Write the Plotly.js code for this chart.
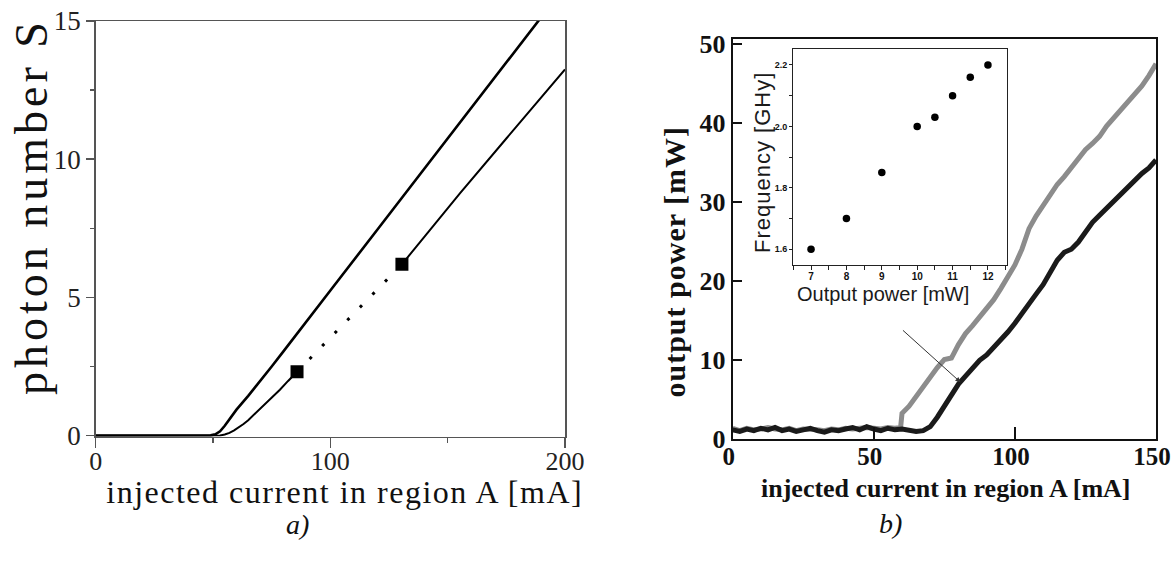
<!DOCTYPE html>
<html>
<head>
<meta charset="utf-8">
<script src="https://cdn.plot.ly/plotly-3.0.1.min.js"></script>
<style>
  html, body { margin: 0; padding: 0; background: #fff; }
  #chart { width: 1173px; height: 561px; }
  .annotation[data-index="0"] text { letter-spacing: 4px; }
  .annotation[data-index="1"] text { letter-spacing: 1.5px; }
  .annotation[data-index="2"] text { letter-spacing: 1px; }
  .annotation[data-index="4"] text { letter-spacing: 1px; }
</style>
</head>
<body>
<div id="chart"></div>
<script>
// ---------- Panel a) simulation: photon number S vs injected current ----------
const simCurrentUpper = [0, 45, 49, 51, 53, 55, 57, 60, 65, 70, 75, 80, 87, 100, 120, 140, 160, 180, 190];
const simPhotonUpper  = [0, 0, 0.01, 0.05, 0.16, 0.36, 0.6, 0.94, 1.44, 1.96, 2.5, 3.05, 3.83, 5.25, 7.45, 9.65, 11.85, 14.05, 15.15];

const simCurrentLowerA = [0, 50, 53, 55, 57, 59, 61, 63, 65, 68, 71.3, 75, 78.5, 82, 85.8];
const simPhotonLowerA  = [0, 0, 0.01, 0.04, 0.1, 0.19, 0.3, 0.42, 0.56, 0.8, 1.05, 1.37, 1.66, 1.98, 2.31];

const simCurrentLowerB = [130.5, 155.3, 175, 200];
const simPhotonLowerB  = [6.2, 8.77, 10.75, 13.25];

const squareCurrent = [85.8, 130.5];
const squarePhoton  = [2.31, 6.2];

// ---------- Panel b) measurement: output power vs injected current ----------
const measCurrentBlack = [0, 2.5, 5, 7.5, 10, 12.5, 15, 17.5, 20, 22.5, 25, 27.5, 30, 32.5, 35, 37.5, 40, 42.5, 45, 47.5,
  50, 52.5, 55, 57.5, 60, 62.5, 65, 67.5, 70, 72.5, 75, 77.5, 80, 82.5, 85, 87.5, 90, 92.5, 95, 97.5,
  100, 102.5, 105, 107.5, 110, 112.5, 115, 117.5, 120, 122.5, 125, 127.5, 130, 132.5, 135, 137.5, 140, 142.5, 145, 147.5, 150];
const measPowerBlack = [1.1, 0.9, 1.2, 1.0, 1.3, 1.1, 1.4, 1.0, 1.2, 0.9, 1.1, 1.3, 1.0, 0.8, 1.1, 1.0, 1.2, 1.4, 1.1, 1.5,
  1.2, 1.0, 1.3, 1.1, 1.2, 1.0, 0.9, 1.0, 1.5, 2.7, 4.2, 5.6, 6.9, 7.9, 8.9, 9.9, 10.6, 11.5, 12.6, 13.5,
  14.6, 15.9, 17.0, 18.3, 19.5, 21.0, 22.6, 23.6, 24.0, 24.9, 26.1, 27.4, 28.3, 29.2, 30.1, 31.0, 31.9, 32.8, 33.6, 34.3, 35.3];

const measCurrentGray = [0, 2.5, 5, 7.5, 10, 12.5, 15, 17.5, 20, 22.5, 25, 27.5, 30, 32.5, 35, 37.5, 40, 42.5, 45, 47.5,
  50, 52.5, 55, 57.5, 59.5, 60, 62.5, 65, 67.5, 70, 72.5, 75, 77.5, 80, 82.5, 85, 87.5, 90, 92.5, 95, 97.5,
  100, 102.5, 105, 107.5, 110, 112.5, 115, 117.5, 120, 122.5, 125, 127.5, 130, 132.5, 135, 137.5, 140, 142.5, 145, 147.5, 150];
const measPowerGray = [1.3, 1.0, 1.3, 1.1, 1.2, 1.4, 1.2, 1.1, 1.3, 1.0, 1.2, 1.2, 1.1, 1.0, 1.2, 1.1, 1.3, 1.2, 1.3, 1.4,
  1.3, 1.2, 1.4, 1.3, 1.4, 3.2, 4.1, 5.3, 6.6, 7.9, 9.0, 10.0, 10.2, 11.9, 13.3, 14.3, 15.4, 16.3, 17.6, 19.0, 20.6,
  22.0, 24.0, 26.6, 28.2, 29.6, 31.0, 32.2, 33.2, 34.4, 35.6, 36.6, 37.4, 38.3, 39.6, 40.6, 41.6, 42.7, 43.7, 44.7, 46.0, 47.5];

// ---------- Inset: frequency vs output power ----------
const insetPower = [7, 8, 9, 10, 10.5, 11, 11.5, 12];
const insetFreq  = [1.6, 1.7, 1.85, 2.0, 2.03, 2.1, 2.16, 2.2];

// ---------- Tick labels and text ----------
const ticksA_x = [0, 100, 200];
const ticksA_y = [0, 5, 10, 15];
const ticksB_x = [0, 50, 100, 150];
const ticksB_y = [0, 10, 20, 30, 40, 50];
const ticksInset_x = [7, 8, 9, 10, 11, 12];
const ticksInset_y = [1.6, 1.8, 2.0, 2.2];

const titleA_y = 'photon number S';
const titleA_x = 'injected current in region A [mA]';
const titleB_y = 'output power [mW]';
const titleB_x = 'injected current in region A [mA]';
const insetTitleY = 'Frequency [GHy]';
const insetTitleX = 'Output power [mW]';
const panelLabels = ['a)', 'b)'];

const W = 1173, H = 561;
const px = v => v / W;
const py = v => 1 - v / H;

const serif = 'Liberation Serif, Times New Roman, serif';
const sans = 'Liberation Sans, Arial, sans-serif';

const traces = [
  { x: simCurrentUpper, y: simPhotonUpper, xaxis: 'x', yaxis: 'y', mode: 'lines',
    line: { color: '#000', width: 2.6 }, hoverinfo: 'skip' },
  { x: simCurrentLowerA, y: simPhotonLowerA, xaxis: 'x', yaxis: 'y', mode: 'lines',
    line: { color: '#000', width: 2 }, hoverinfo: 'skip' },
  { x: simCurrentLowerB, y: simPhotonLowerB, xaxis: 'x', yaxis: 'y', mode: 'lines',
    line: { color: '#000', width: 2 }, hoverinfo: 'skip' },
  { x: squareCurrent, y: squarePhoton, xaxis: 'x', yaxis: 'y', mode: 'lines',
    line: { color: '#000', width: 3, dash: '3px,15px' }, hoverinfo: 'skip' },
  { x: squareCurrent, y: squarePhoton, xaxis: 'x', yaxis: 'y', mode: 'markers',
    marker: { symbol: 'square', size: 13, color: '#000' }, hoverinfo: 'skip' },

  { x: measCurrentGray, y: measPowerGray, xaxis: 'x2', yaxis: 'y2', mode: 'lines',
    line: { color: '#8c8c8c', width: 5 }, hoverinfo: 'skip' },
  { x: measCurrentBlack, y: measPowerBlack, xaxis: 'x2', yaxis: 'y2', mode: 'lines',
    line: { color: '#1a1a1a', width: 5 }, hoverinfo: 'skip' },

  { x: insetPower, y: insetFreq, xaxis: 'x3', yaxis: 'y3', mode: 'markers',
    marker: { size: 7.5, color: '#000' }, hoverinfo: 'skip' }
];

const layout = {
  width: W, height: H,
  margin: { l: 0, r: 0, t: 0, b: 0 },
  paper_bgcolor: '#fff', plot_bgcolor: '#fff',
  showlegend: false,
  xaxis: {
    domain: [px(95.7), px(565)], range: [0, 200], anchor: 'y',
    tickvals: ticksA_x, ticks: 'outside', ticklen: 10, tickwidth: 1.5, tickcolor: '#555',
    minor: { tickvals: [50, 150], ticks: 'outside', ticklen: 5, tickwidth: 1.5, tickcolor: '#555' },
    showline: true, linecolor: '#555', linewidth: 1.5, mirror: true,
    showgrid: false, zeroline: false, ticklabelstandoff: -9, ticklabeloverflow: 'allow',
    tickfont: { family: serif, size: 26, color: '#222' }
  },
  yaxis: {
    domain: [py(436.5), py(21)], range: [-0.03, 15], anchor: 'x',
    tickvals: ticksA_y, ticks: 'outside', ticklen: 8, tickwidth: 1.5, tickcolor: '#555',
    minor: { tickvals: [2.5, 7.5, 12.5], ticks: 'outside', ticklen: 4, tickwidth: 1.5, tickcolor: '#555' },
    showline: true, linecolor: '#555', linewidth: 1.5, mirror: true,
    showgrid: false, zeroline: false, ticklabeloverflow: 'allow',
    tickfont: { family: serif, size: 27, color: '#222' }
  },
  xaxis2: {
    domain: [px(732.7), px(1156)], range: [0, 150], anchor: 'y2',
    tickvals: ticksB_x, ticks: 'inside', ticklen: 12, tickwidth: 2, tickcolor: '#111',
    showline: true, linecolor: '#111', linewidth: 2, mirror: true,
    showgrid: false, zeroline: false, ticklabelstandoff: -6, ticklabelshift: -4, ticklabeloverflow: 'allow',
    tickfont: { family: serif, size: 25, color: '#111', weight: 'bold' }
  },
  yaxis2: {
    domain: [py(439.3), py(39.3)], range: [-0.1, 50.6], anchor: 'x2',
    tickvals: ticksB_y, ticks: 'inside', ticklen: 9, tickwidth: 2, tickcolor: '#111',
    showline: true, linecolor: '#111', linewidth: 2, mirror: true,
    showgrid: false, zeroline: false, ticklabeloverflow: 'allow',
    tickfont: { family: serif, size: 26, color: '#111', weight: 'bold' }
  },
  xaxis3: {
    domain: [px(793), px(1006.7)], range: [6.49, 12.53], anchor: 'y3',
    tickvals: ticksInset_x, ticks: 'outside', ticklen: 4, tickwidth: 1, tickcolor: '#222',
    minor: { tickvals: [6.5, 7.5, 8.5, 9.5, 10.5, 11.5, 12.5], ticks: 'outside', ticklen: 4, tickwidth: 1, tickcolor: '#222' },
    showline: true, linecolor: '#222', linewidth: 1, mirror: true,
    showgrid: false, zeroline: false, ticklabelstandoff: -2,
    tickfont: { family: sans, size: 10, color: '#111', weight: 'bold' }
  },
  yaxis3: {
    domain: [py(265), py(49.3)], range: [1.549, 2.251], anchor: 'x3',
    tickvals: ticksInset_y, tickformat: '.1f', ticks: 'outside', ticklen: 3, tickwidth: 1, tickcolor: '#222',
    minor: { tickvals: [1.7, 1.9, 2.1], ticks: 'outside', ticklen: 3, tickwidth: 1, tickcolor: '#222' },
    showline: true, linecolor: '#222', linewidth: 1, mirror: true,
    showgrid: false, zeroline: false,
    tickfont: { family: sans, size: 9, color: '#111', weight: 'bold' }
  },
  annotations: [
    { text: titleA_y, xref: 'paper', yref: 'paper', x: px(32), y: py(207), textangle: -90,
      showarrow: false, xanchor: 'center', yanchor: 'middle',
      font: { family: serif, size: 46, color: '#111' } },
    { text: titleA_x, xref: 'paper', yref: 'paper', x: px(344), y: py(492),
      showarrow: false, xanchor: 'center', yanchor: 'middle',
      font: { family: serif, size: 32, color: '#111' } },
    { text: titleB_y, xref: 'paper', yref: 'paper', x: px(674), y: py(262), textangle: -90,
      showarrow: false, xanchor: 'center', yanchor: 'middle',
      font: { family: serif, size: 30, color: '#111', weight: 'bold' } },
    { text: titleB_x, xref: 'paper', yref: 'paper', x: px(945), y: py(488),
      showarrow: false, xanchor: 'center', yanchor: 'middle',
      font: { family: serif, size: 26, color: '#111', weight: 'bold' } },
    { text: insetTitleY, xref: 'paper', yref: 'paper', x: px(762), y: py(162.5), textangle: -90,
      showarrow: false, xanchor: 'center', yanchor: 'middle',
      font: { family: sans, size: 22, color: '#1a1a1a' } },
    { text: insetTitleX, xref: 'paper', yref: 'paper', x: px(882.5), y: py(294),
      showarrow: false, xanchor: 'center', yanchor: 'middle',
      font: { family: sans, size: 20, color: '#1a1a1a' } },
    { text: panelLabels[0], xref: 'paper', yref: 'paper', x: px(297), y: py(524),
      showarrow: false, xanchor: 'center', yanchor: 'middle',
      font: { family: serif, size: 28, color: '#111', style: 'italic' } },
    { text: panelLabels[1], xref: 'paper', yref: 'paper', x: px(890), y: py(523),
      showarrow: false, xanchor: 'center', yanchor: 'middle',
      font: { family: serif, size: 28, color: '#111', style: 'italic' } },
    { text: '', xref: 'x2', yref: 'y2', x: 80.7, y: 7.14, axref: 'x2', ayref: 'y2', ax: 59.8, ay: 13.88,
      showarrow: true, arrowhead: 2, arrowsize: 1, arrowwidth: 1, arrowcolor: '#333', standoff: 0 }
  ]
};

Plotly.newPlot('chart', traces, layout, { staticPlot: true, displayModeBar: false });
</script>
</body>
</html>
